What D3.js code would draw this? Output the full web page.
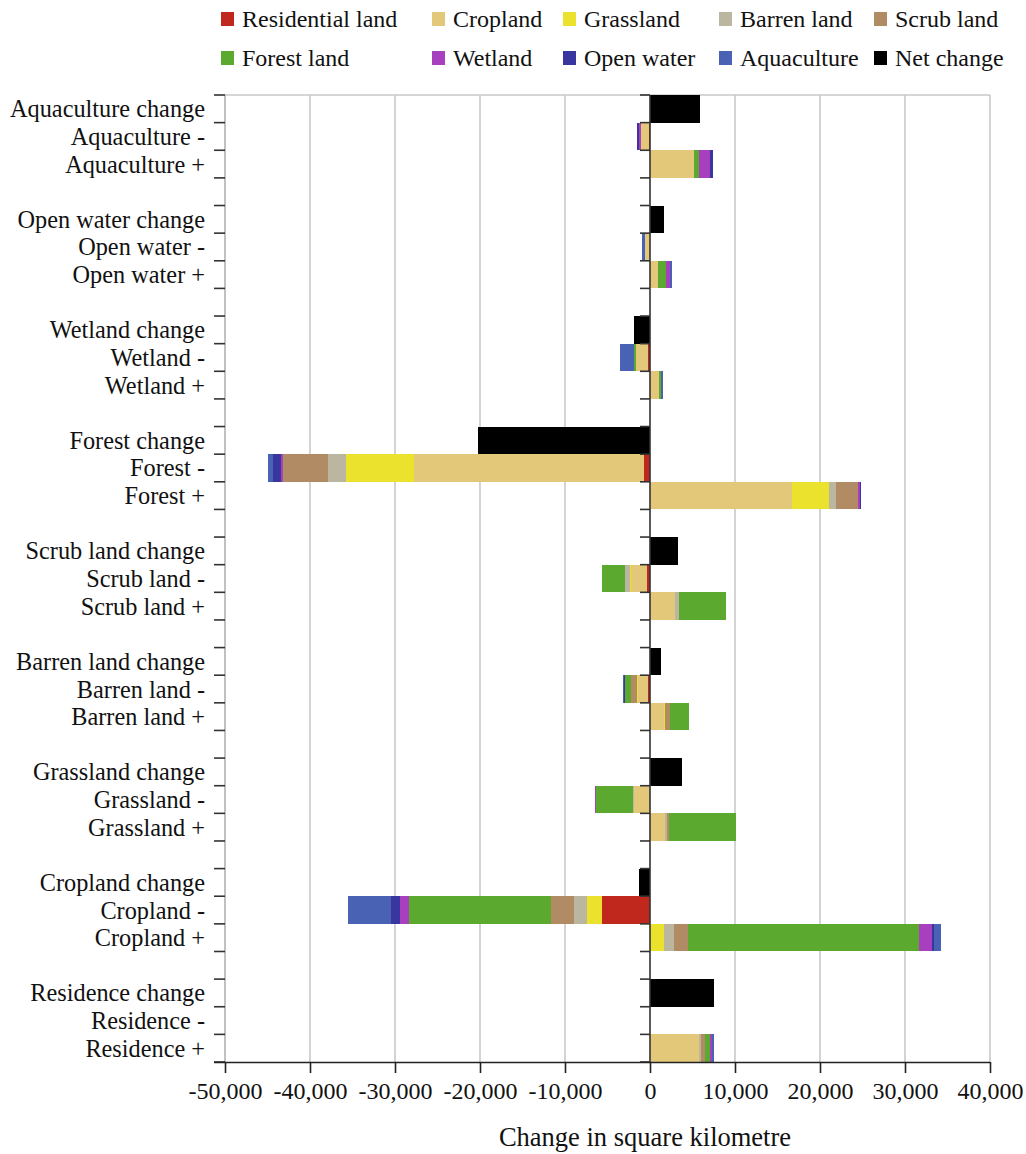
<!DOCTYPE html>
<html>
<head>
<meta charset="utf-8">
<script src="https://cdn.jsdelivr.net/npm/d3@7"></script>
<style>
  html, body { margin: 0; padding: 0; background: #fff; }
  svg { display: block; font-family: "Liberation Serif", "Times New Roman", serif; }
</style>
</head>
<body>
<svg id="chart" width="1026" height="1154"></svg>
<script>
// Land-use types, in stacking order (nearest to zero first)
const landTypes = ["Residential land", "Cropland", "Grassland", "Barren land", "Scrub land",
                   "Forest land", "Wetland", "Open water", "Aquaculture"];
const landColors = ["#c0281e", "#e3c87a", "#ebe22e", "#bab6a0", "#b08b64",
                    "#5ba92e", "#a83fbf", "#3a36a0", "#4a62b4"];
const netLabel = "Net change";
const netColor = "#000000";

// Categories from top to bottom
const categories = ["Aquaculture", "Open water", "Wetland", "Forest", "Scrub land",
                    "Barren land", "Grassland", "Cropland", "Residence"];

// Gains (+) and losses (-) per category, km², by source/destination land type
const aquaculturePlus  = [0, 5180, 0, 0, 0, 630, 1200, 380, 0];
const aquacultureMinus = [60, 980, 0, 0, 0, 0, 310, 200, 0];
const openWaterPlus    = [0, 980, 0, 0, 0, 900, 470, 0, 240];
const openWaterMinus   = [0, 550, 0, 0, 0, 0, 60, 0, 330];
const wetlandPlus      = [0, 1100, 0, 0, 0, 200, 0, 0, 280];
const wetlandMinus     = [200, 1450, 0, 0, 0, 200, 0, 0, 1700];
const forestPlus       = [0, 16700, 4350, 820, 2600, 0, 180, 150, 0];
const forestMinus      = [660, 27050, 8010, 2150, 5330, 0, 165, 1030, 580];
const scrubPlus        = [0, 2890, 0, 580, 0, 5450, 0, 0, 0];
const scrubMinus       = [370, 1900, 60, 580, 0, 2680, 0, 0, 0];
const barrenPlus       = [0, 1610, 165, 0, 580, 2190, 0, 0, 50];
const barrenMinus      = [290, 1070, 200, 0, 700, 740, 0, 80, 80];
const grasslandPlus    = [0, 1820, 0, 150, 260, 7930, 0, 0, 0];
const grasslandMinus   = [50, 1780, 0, 200, 0, 4380, 60, 0, 0];
const croplandPlus     = [0, 0, 1640, 1190, 1640, 27170, 1490, 300, 840];
const croplandMinus    = [5680, 0, 1710, 1510, 2770, 16720, 1060, 1010, 5110];
const residencePlus    = [0, 5780, 0, 200, 500, 540, 290, 0, 200];
const residenceMinus   = [0, 0, 0, 0, 0, 0, 0, 0, 0];

// Net change per category (same order as categories)
const netChange = [5900, 1650, -1940, -20200, 3300, 1240, 3760, -1320, 7520];

// x-axis ticks
const xTicks = [-50000, -40000, -30000, -20000, -10000, 0, 10000, 20000, 30000, 40000];
const xTitle = "Change in square kilometre";

const plusArrays  = [aquaculturePlus, openWaterPlus, wetlandPlus, forestPlus, scrubPlus,
                     barrenPlus, grasslandPlus, croplandPlus, residencePlus];
const minusArrays = [aquacultureMinus, openWaterMinus, wetlandMinus, forestMinus, scrubMinus,
                     barrenMinus, grasslandMinus, croplandMinus, residenceMinus];

// Build rows: change, -, +, then a spacer between groups
const rows = [];
categories.forEach((c, i) => {
  rows.push({ key: c + " change", label: c + " change", kind: "net", value: netChange[i] });
  rows.push({ key: c + " -", label: c + " -", kind: "minus", values: minusArrays[i] });
  rows.push({ key: c + " +", label: c + " +", kind: "plus", values: plusArrays[i] });
  if (i < categories.length - 1) rows.push({ key: "gap" + i, label: "", kind: "gap" });
});

const svg = d3.select("#chart");
const margin = { left: 225, right: 36, top: 95, bottom: 92 };
const W = 1026, H = 1154;

const x = d3.scaleLinear().domain([-50000, 40000]).range([margin.left, W - margin.right]);
const y = d3.scaleBand().domain(rows.map(r => r.key)).range([margin.top, H - margin.bottom])
  .paddingInner(0).paddingOuter(0);

const locale = d3.formatLocale({ decimal: ".", thousands: ",", grouping: [3], currency: ["", ""], minus: "-" });
const fmt = locale.format(",");

// Gridlines
svg.append("g").selectAll("line").data(xTicks.filter(t => t !== 0)).join("line")
  .attr("x1", d => x(d)).attr("x2", d => x(d))
  .attr("y1", y.range()[0]).attr("y2", y.range()[1])
  .attr("stroke", "#c9c9c9").attr("stroke-width", 1.6);
// Top border
svg.append("line")
  .attr("x1", x(-50000)).attr("x2", x(40000))
  .attr("y1", y.range()[0]).attr("y2", y.range()[0])
  .attr("stroke", "#c9c9c9").attr("stroke-width", 1.6);

// Stacked segments
const segs = [];
rows.forEach(r => {
  if (r.kind === "plus" || r.kind === "minus") {
    let acc = 0;
    const sign = r.kind === "plus" ? 1 : -1;
    r.values.forEach((v, k) => {
      if (v > 0) {
        segs.push({ row: r.key, x0: acc * sign, x1: (acc + v) * sign, color: landColors[k] });
      }
      acc += v;
    });
  } else if (r.kind === "net") {
    segs.push({ row: r.key, x0: 0, x1: r.value, color: netColor });
  }
});

svg.append("g").selectAll("rect").data(segs).join("rect")
  .attr("x", d => Math.min(x(d.x0), x(d.x1)))
  .attr("width", d => Math.abs(x(d.x1) - x(d.x0)))
  .attr("y", d => y(d.row))
  .attr("height", y.bandwidth())
  .attr("fill", d => d.color)
  .attr("shape-rendering", "crispEdges");

// Row boundary positions
const bounds = rows.map(r => y(r.key)).concat([y.range()[1]]);

// Zero axis with ticks
svg.append("line")
  .attr("x1", x(0)).attr("x2", x(0))
  .attr("y1", y.range()[0]).attr("y2", y.range()[1])
  .attr("stroke", "#333").attr("stroke-width", 1.6);
svg.append("g").selectAll("line").data(bounds).join("line")
  .attr("x1", x(0) - 10).attr("x2", x(0))
  .attr("y1", d => d).attr("y2", d => d)
  .attr("stroke", "#333").attr("stroke-width", 1.6);

// Left axis: line and ticks at row boundaries
svg.append("line")
  .attr("x1", x(-50000)).attr("x2", x(-50000))
  .attr("y1", y.range()[0]).attr("y2", y.range()[1])
  .attr("stroke", "#bdbdbd").attr("stroke-width", 1.6);
svg.append("g").selectAll("line").data(bounds).join("line")
  .attr("x1", x(-50000) - 11).attr("x2", x(-50000))
  .attr("y1", d => d).attr("y2", d => d)
  .attr("stroke", "#333").attr("stroke-width", 1.6);

// Category labels
svg.append("g").selectAll("text").data(rows.filter(r => r.label)).join("text")
  .attr("x", 205)
  .attr("y", r => y(r.key) + y.bandwidth() / 2)
  .attr("dy", "0.35em")
  .attr("text-anchor", "end")
  .attr("font-size", 24.3)
  .attr("fill", "#111")
  .text(r => r.label);

// Bottom axis
const xAxis = d3.axisBottom(x).tickValues(xTicks).tickFormat(fmt).tickSize(11).tickSizeOuter(0);
const gx = svg.append("g").attr("transform", `translate(0,${y.range()[1]})`).call(xAxis);
gx.select(".domain").attr("stroke", "#222").attr("stroke-width", 1.6)
  .attr("d", `M${x(-50000) - 11},0.5H${x(40000)}`);
gx.selectAll(".tick line").attr("stroke", "#222").attr("stroke-width", 1.6);
gx.selectAll(".tick text").attr("font-size", 24).attr("fill", "#111")
  .attr("font-family", "'Liberation Serif', serif").attr("y", 20).attr("dy", "0.71em");

// Axis title
svg.append("text")
  .attr("x", 645).attr("y", 1146)
  .attr("text-anchor", "middle")
  .attr("font-size", 26.5)
  .attr("fill", "#111")
  .text(xTitle);

// Legend
const legendItems = landTypes.map((t, i) => ({ label: t, color: landColors[i] }))
  .concat([{ label: netLabel, color: netColor }]);
const colX = [221, 432, 563, 719, 874];
const rowY = [19, 58];
const lg = svg.append("g").selectAll("g").data(legendItems).join("g")
  .attr("transform", (d, i) => `translate(${colX[i % 5]},${rowY[Math.floor(i / 5)]})`);
lg.append("rect").attr("x", 0).attr("y", -7).attr("width", 13).attr("height", 14)
  .attr("fill", d => d.color);
lg.append("text").attr("x", 21).attr("y", 0).attr("dy", "0.35em")
  .attr("font-size", 24).attr("fill", "#111").text(d => d.label);
</script>
</body>
</html>
